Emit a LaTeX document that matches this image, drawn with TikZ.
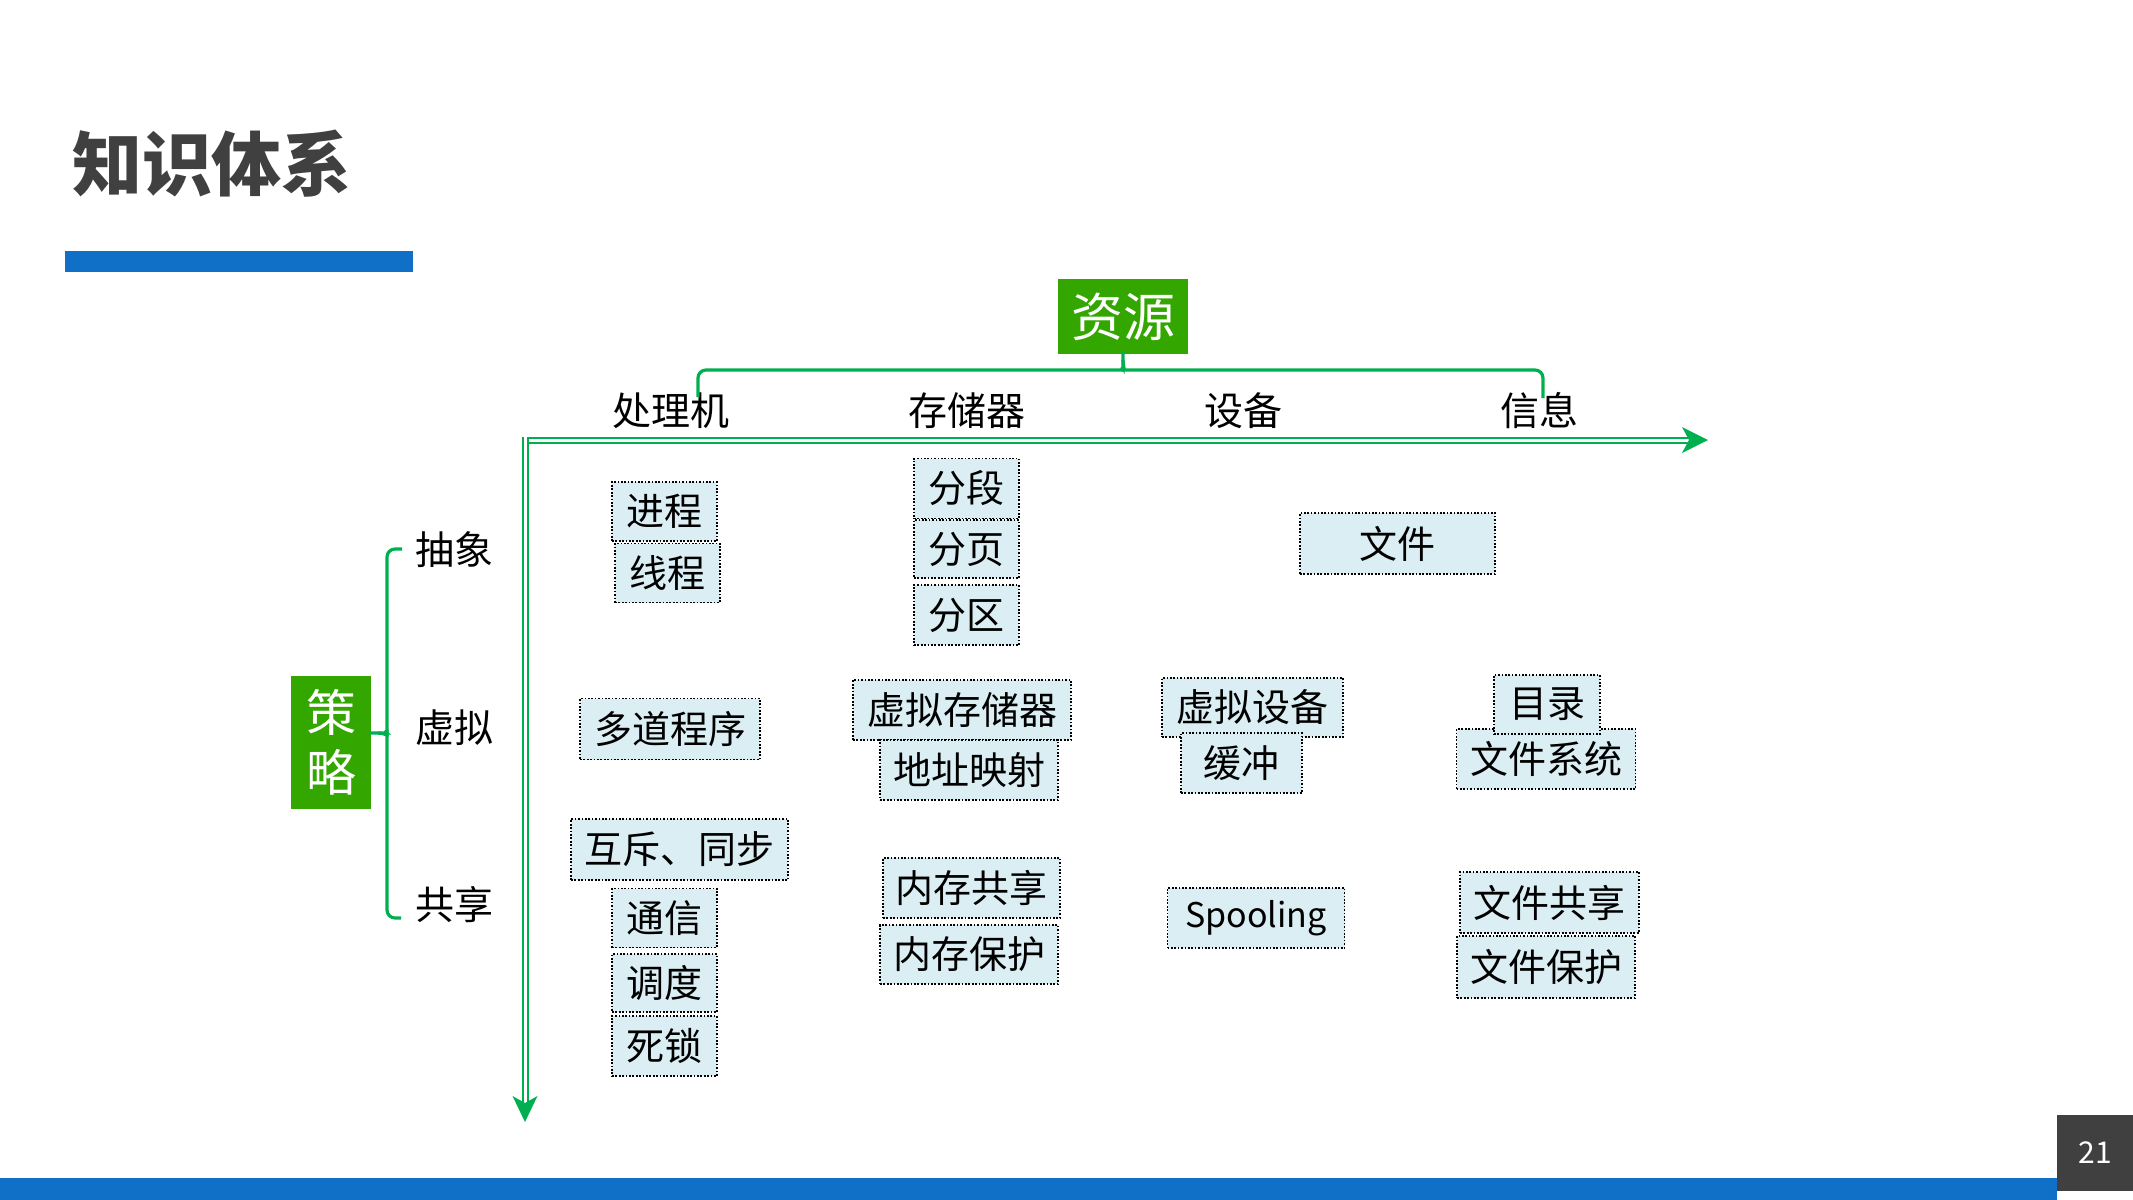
\documentclass[tikz,border=0pt]{standalone}
\usepackage{fontspec}
\setmainfont{Noto Sans CJK SC}
\definecolor{barblue}{RGB}{16,112,200}
\definecolor{titlegray}{RGB}{64,64,64}
\definecolor{axisgreen}{RGB}{0,176,80}
\definecolor{boxgreen}{RGB}{51,166,0}
\definecolor{cellblue}{RGB}{218,238,243}
\newcommand\cellbox[6]{\node[cell, minimum width=#4*0.5pt, minimum height=#5*0.5pt] (#1) at (#2,#3) {#6};}
\begin{document}
\begin{tikzpicture}[x=0.5pt,y=-0.5pt,
  cell/.style={draw=black, fill=cellblue, line width=0.85pt, dash pattern=on 0.85pt off 0.85pt, inner sep=0pt, font=\fontsize{19}{22}\selectfont, text=black},
  lbl/.style={font=\fontsize{19.5}{23}\selectfont, inner sep=0pt, text=black},
  axisline/.style={draw=axisgreen, line width=1pt, double=white, double distance=1.5pt},
  brace/.style={draw=axisgreen, line width=1.6pt},
  greenbox/.style={fill=boxgreen, text=white, inner sep=0pt, align=center}
]
\useasboundingbox (0,0) rectangle (2133,1200);
\fill[white] (0,0) rectangle (2133,1200);

% title and bars
\node[font=\fontsize{35}{40}\selectfont\bfseries, text=titlegray, inner sep=0pt] (title) at (212,164) {知识体系};
\fill[barblue] (65,251) rectangle (413,272);
\fill[barblue] (0,1178) rectangle (2057,1200);
\node[fill=titlegray, text=white, minimum width=76*0.5pt, minimum height=76*0.5pt, inner sep=0pt, font=\fontsize{15}{18}\selectfont] (pnum) at (2095,1153) {21};

% green heads
\node[greenbox, minimum width=130*0.5pt, minimum height=75*0.5pt, font=\fontsize{26}{30}\selectfont] (res) at (1123,316.5) {资源};
\node[greenbox, minimum width=80*0.5pt, minimum height=133*0.5pt, font=\fontsize{25}{30}\selectfont] (stra) at (331,742.5) {策\\略};

% column headers
\node[lbl] (h1) at (671,411) {处理机};
\node[lbl] (h2) at (966.5,411) {存储器};
\node[lbl] (h3) at (1243,411) {设备};
\node[lbl] (h4) at (1539,411) {信息};

% row labels
\node[lbl] (r1) at (454,550) {抽象};
\node[lbl] (r2) at (454,728) {虚拟};
\node[lbl] (r3) at (454,905) {共享};

% top brace
\draw[brace, rounded corners=4pt] (698,397) -- (698,370) -- (1114,370) .. controls (1121,370) and (1123,366) .. (1123,360) -- (res.south);
\draw[brace, rounded corners=4pt] (1543,398) -- (1543,370) -- (1132,370) .. controls (1125,370) and (1123,366) .. (1123,360);

% left brace
\draw[brace, rounded corners=4pt] (402,549) -- (387,549) -- (387,724) .. controls (387,730) and (384,733) .. (378,733) -- (stra.east |- 0,733);
\draw[brace, rounded corners=4pt] (401,918) -- (387,918) -- (387,742) .. controls (387,736) and (384,733) .. (378,733);

% axes
\coordinate (O) at (525,440);
\coordinate (xnotch) at (1689,440);
\coordinate (xtip) at (1708,440);
\coordinate (ynotch) at (525,1103);
\coordinate (ytip) at (525,1122);
\draw[axisline] (522,440) -- (xnotch);
\draw[axisline] (525,437) -- (ynotch);
\fill[axisgreen] (xtip) -- (1682,427) -- (xnotch) -- (1682,453) -- cycle;
\fill[axisgreen] (ytip) -- (512.5,1096) -- (ynotch) -- (537.5,1096) -- cycle;

% processor column
\cellbox{jc}{664.5}{511.5}{105}{59}{进程}
\cellbox{xc}{667.5}{573}{105}{59}{线程}
\cellbox{ddcx}{670}{729}{180}{61}{多道程序}
\cellbox{hc}{679.5}{849.5}{217}{61}{互斥、同步}
\cellbox{tx}{664.5}{918}{105}{59}{通信}
\cellbox{dd}{664.5}{983}{105}{58}{调度}
\cellbox{sl}{664.5}{1046}{105}{60}{死锁}

% memory column
\cellbox{fd}{966.5}{488.5}{105}{60}{分段}
\cellbox{fy}{966.5}{549}{105}{58}{分页}
\cellbox{fq}{966.5}{615}{105}{60}{分区}
\cellbox{xncc}{962}{710}{218}{60}{虚拟存储器}
\cellbox{dzys}{969}{770}{178}{60}{地址映射}
\cellbox{ncgx}{971.5}{888}{177}{60}{内存共享}
\cellbox{ncbh}{969}{954.5}{178}{59}{内存保护}

% device column
\cellbox{xnsb}{1252.5}{707.5}{181}{59}{虚拟设备}
\cellbox{hcb}{1241.5}{763}{121}{60}{缓冲}
\node[cell, minimum width=177*0.5pt, minimum height=60*0.5pt, font=\fontsize{17}{20}\selectfont] (spool) at (1256,918) {Spooling};

% information column
\cellbox{wj}{1397.5}{543.5}{195}{61}{文件}
\cellbox{wjxt}{1546}{759}{179}{60}{文件系统}
\cellbox{ml}{1547}{704.5}{106}{59}{目录}
\cellbox{wjgx}{1549.5}{902.5}{179}{61}{文件共享}
\cellbox{wjbh}{1546}{967}{178}{62}{文件保护}
\end{tikzpicture}
\end{document}
